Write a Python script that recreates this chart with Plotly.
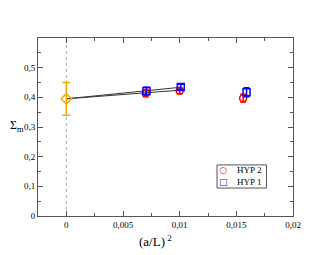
import plotly.graph_objects as go

# data
hyp2_x = [0.007, 0.01, 0.0156]
hyp2_y = [0.414, 0.422, 0.397]
hyp2_err = [0.012, 0.010, 0.013]

hyp1_x = [0.00707, 0.0101, 0.0159]
hyp1_y = [0.421, 0.435, 0.417]
hyp1_err = [0.013, 0.009, 0.015]

extrap_x = [0.0]
extrap_y = [0.395]
extrap_err = [0.055]

fit1_x = [0.0, 0.0101]
fit1_y = [0.395, 0.434]
fit2_x = [0.0, 0.01]
fit2_y = [0.395, 0.424]

xtick_vals = [0, 0.005, 0.01, 0.015, 0.02]
xtick_text = ["0", "0,005", "0,01", "0,015", "0,02"]
ytick_vals = [0, 0.1, 0.2, 0.3, 0.4, 0.5]
ytick_text = ["0", "0,1", "0,2", "0,3", "0,4", "0,5"]

legend_labels = ["HYP 2", "HYP 1"]
legend_symbols = ["○", "□"]
legend_colors = ["red", "blue"]

font = "Liberation Serif"

fig = go.Figure()

fig.add_trace(go.Scatter(x=fit1_x, y=fit1_y, mode="lines",
                         line=dict(color="#333333", width=1), showlegend=False))
fig.add_trace(go.Scatter(x=fit2_x, y=fit2_y, mode="lines",
                         line=dict(color="#333333", width=1), showlegend=False))

fig.add_trace(go.Scatter(x=hyp2_x, y=hyp2_y, mode="markers", name="HYP 2", showlegend=False,
                         marker=dict(symbol="circle-open", color="red", size=7, line=dict(width=1.5)),
                         error_y=dict(type="data", array=hyp2_err, color="red", thickness=1.5, width=3)))
fig.add_trace(go.Scatter(x=hyp1_x, y=hyp1_y, mode="markers", name="HYP 1", showlegend=False,
                         marker=dict(symbol="square-open", color="blue", size=7, line=dict(width=1.5)),
                         error_y=dict(type="data", array=hyp1_err, color="blue", thickness=1.5, width=3)))
fig.add_trace(go.Scatter(x=extrap_x, y=extrap_y, mode="markers", showlegend=False,
                         marker=dict(symbol="diamond-open", color="orange", size=8, line=dict(width=1.5)),
                         error_y=dict(type="data", array=extrap_err, color="orange", thickness=1.5, width=4)))

fig.add_shape(type="line", x0=0, x1=0, y0=0, y1=0.6, xref="x", yref="y",
              line=dict(color="#aaaaaa", width=1, dash="dot"), layer="below")

axis_common = dict(showgrid=False, zeroline=False, showline=True, linecolor="#555555",
                   linewidth=1, mirror="allticks", ticks="inside", ticklen=5, tickcolor="#555555",
                   tickfont=dict(family=font, size=9, color="black"))

fig.update_xaxes(range=[-0.0025, 0.02], tickvals=xtick_vals, ticktext=xtick_text,
                 minor=dict(ticks="inside", ticklen=3, dtick=0.0025, tick0=0, tickcolor="#555555"),
                 **axis_common)
fig.update_yaxes(range=[0, 0.6], tickvals=ytick_vals, ticktext=ytick_text,
                 minor=dict(ticks="inside", ticklen=3, dtick=0.05, tick0=0, tickcolor="#555555"),
                 **axis_common)

fig.add_annotation(text="Σ<sub>m</sub>", x=-0.1176, y=0.505, xref="paper", yref="paper",
                   xanchor="left", yanchor="middle", showarrow=False,
                   font=dict(family=font, size=12, color="black"))
fig.add_annotation(text="(a/L)<sup> 2</sup>", x=0.46, y=-0.085, xref="paper", yref="paper",
                   xanchor="center", showarrow=False, yanchor="top",
                   font=dict(family=font, size=13, color="black"))

# legend box
fig.add_shape(type="rect", xref="paper", yref="paper", x0=0.702, x1=0.896, y0=0.157, y1=0.287,
              line=dict(color="#555555", width=1), fillcolor="white", layer="above")
sym_text = "<br>".join(f'<span style="color:{c}">{s}</span>'
                       for s, c in zip(legend_symbols, legend_colors))
fig.add_annotation(text=sym_text, x=0.729, y=0.222, xref="paper", yref="paper", showarrow=False,
                   xanchor="center", yanchor="middle", align="center",
                   font=dict(family="DejaVu Sans", size=9, color="black"))
fig.add_annotation(text="<br>".join(legend_labels), x=0.772, y=0.222, xref="paper", yref="paper",
                   showarrow=False, xanchor="left", yanchor="middle", align="left",
                   font=dict(family=font, size=9, color="black"))

fig.update_layout(
    width=322, height=247,
    margin=dict(l=30, r=37, t=30, b=39),
    paper_bgcolor="white", plot_bgcolor="white",
    showlegend=False,
)

fig.write_html("out.html")
